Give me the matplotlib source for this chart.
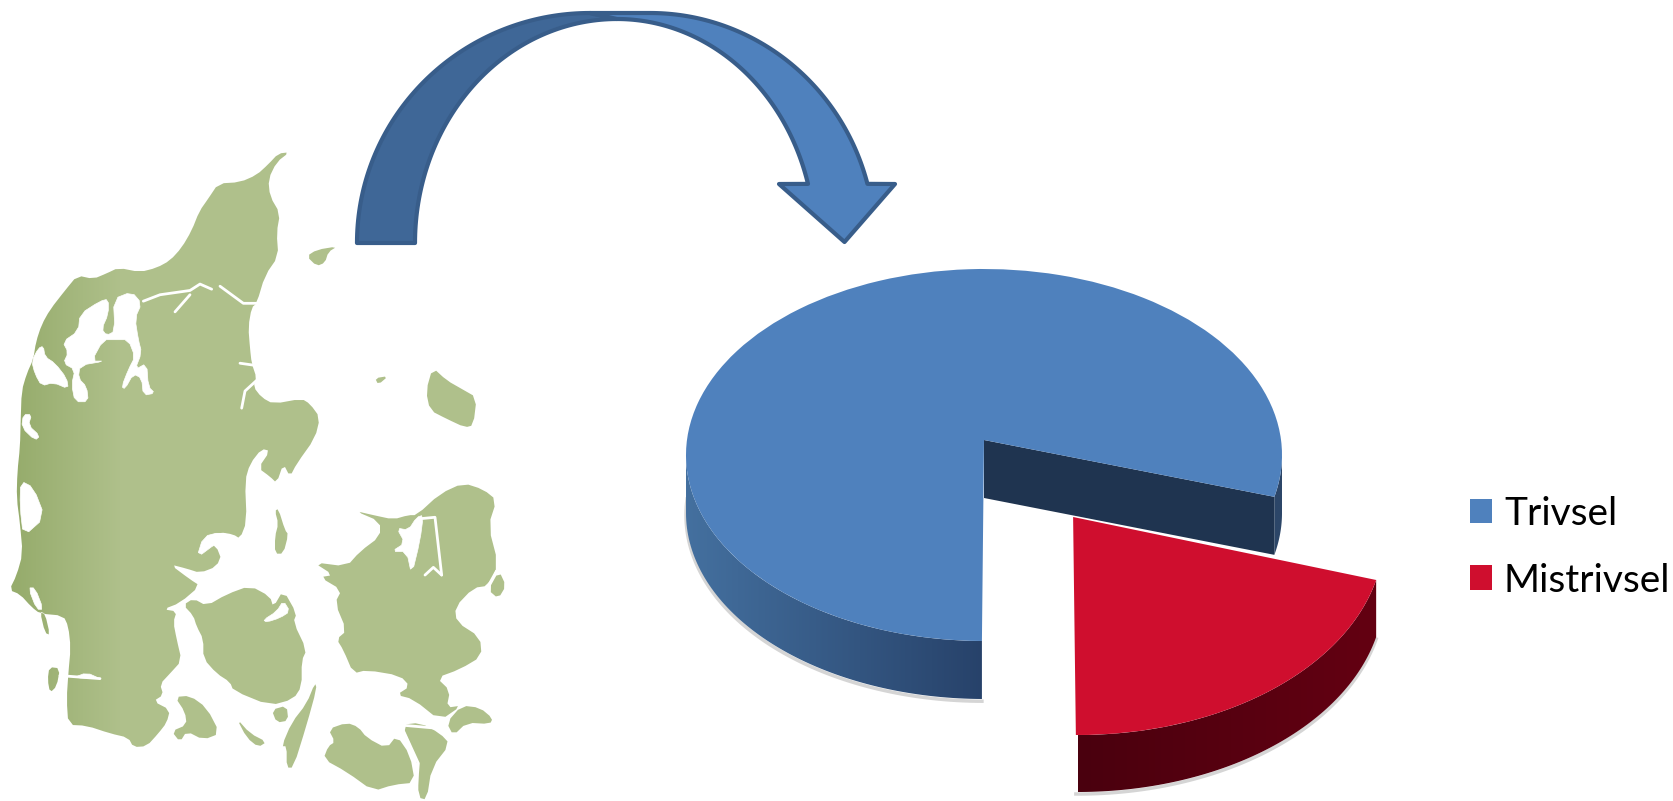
import numpy as np
import matplotlib
matplotlib.use("Agg")
import matplotlib.pyplot as plt
from matplotlib.patches import Polygon, Patch, PathPatch
from matplotlib.path import Path
from matplotlib.colors import LinearSegmentedColormap

W, H = 1674, 801

# ---------- data ----------
categories = ["Trivsel", "Mistrivsel"]
values = [78.5, 21.5]
slice_colors = ["#4f81bd", "#cf0e2e"]

jutland = [(868,52),(835,55),(805,80),(770,105),(720,122),(655,125),(625,160),(598,190),(575,235),(545,275),(510,305),(470,322),(420,332),(355,322),(320,335),(280,348),(232,340),(195,375),(150,420),(125,455),(108,495),(100,535),(80,570),(65,610),(62,680),(60,740),(52,800),(50,860),(60,920),(68,990),(50,1040),(28,1075),(60,1085),(95,1115),(120,1130),(190,1135),(205,1160),(212,1210),(205,1270),(200,1330),(205,1390),(260,1392),(330,1410),(385,1420),(400,1442),(440,1440),(475,1410),(500,1385),(510,1355),(460,1335),(490,1320),(480,1295),(510,1270),(545,1240),(530,1190),(520,1150),(530,1125),(490,1120),(540,1105),(600,1065),(570,1050),(510,1015),(560,1025),(600,1035),(650,1020),(665,990),(615,950),(660,940),(700,945),(720,955),(740,915),(735,820),(750,780),(785,745),(810,750),(775,790),(810,810),(830,825),(850,780),(870,810),(890,780),(945,720),(960,672),(930,640),(905,628),(820,640),(785,625),(760,600),(770,580),(755,545),(750,510),(745,460),(755,415),(770,405),(795,340),(835,295),(830,240),(840,195),(810,155),(805,115),(830,75)]
funen = [(550,1110),(580,1095),(620,1112),(680,1085),(750,1065),(810,1090),(820,1115),(850,1075),(890,1130),(880,1150),(920,1215),(905,1240),(905,1300),(880,1330),(810,1345),(700,1310),(690,1290),(650,1270),(610,1235),(610,1190),(590,1160),(580,1135)]
zealand = [(1250,900),(1320,850),(1390,825),(1450,840),(1490,865),(1465,925),(1495,1015),(1465,1065),(1420,1070),(1365,1115),(1370,1150),(1440,1185),(1445,1230),(1380,1260),(1310,1280),(1350,1310),(1340,1350),(1385,1345),(1320,1380),(1240,1330),(1190,1320),(1230,1300),(1200,1275),(1100,1262),(1060,1270),(1030,1215),(1010,1190),(1040,1170),(1005,1105),(1025,1075),(960,1045),(1000,1040),(940,1010),(1040,1020),(1080,985),(1140,950),(1140,915),(1065,890),(1120,900),(1180,910),(1225,900)]
islands = [
    [(825,890),(835,885),(855,935),(865,945),(850,990),(825,990),(825,950),(835,920)],
    [(920,295),(950,280),(1012,272),(985,285),(975,310),(950,318)],
    [(1125,580),(1165,575),(1135,595)],
    [(1298,555),(1340,585),(1385,605),(1430,625),(1420,690),(1395,695),(1340,675),(1290,655),(1278,610)],
    [(148,1255),(180,1258),(170,1300),(150,1315),(143,1285)],
    [(120,1125),(135,1130),(150,1180),(135,1175)],
    [(525,1325),(570,1322),(620,1350),(660,1410),(610,1425),(560,1405),(540,1430),(515,1405),(560,1390),(555,1360)],
    [(710,1375),(750,1410),(800,1430),(775,1442),(740,1420)],
    [(815,1355),(860,1345),(865,1380),(830,1385)],
    [(945,1292),(950,1305),(920,1390),(880,1490),(860,1490),(860,1440),(845,1440),(875,1385),(920,1340)],
    [(985,1400),(1040,1385),(1075,1395),(1100,1420),(1160,1445),(1190,1415),(1230,1460),(1245,1525),(1180,1530),(1120,1545),(1040,1500),(970,1470),(985,1440),(1005,1430)],
    [(1205,1390),(1260,1385),(1320,1410),(1350,1435),(1295,1490),(1280,1565),(1255,1560),(1255,1490),(1240,1450)],
    [(1340,1385),(1385,1345),(1440,1350),(1478,1375),(1470,1388),(1400,1385),(1360,1415)],
    [(1497,1030),(1518,1065),(1495,1095),(1465,1075)],
]
water_polys = [
    [(95,540),(115,510),(130,505),(135,530),(165,545),(200,580),(205,605),(160,590),(125,598),(105,570)],
    [(340,395),(395,378),(425,405),(405,440),(415,490),(425,520),(405,560),(440,545),(445,600),(465,615),(430,620),(425,580),(400,570),(375,605),(365,600),(385,560),(405,530),(385,490),(345,490),(310,490),(275,540),(315,540),(240,550),(235,580),(260,600),(265,635),(225,635),(215,595),(225,560),(190,545),(205,520),(188,495),(235,470),(240,430),(300,400),(325,395),(325,430),(305,465),(320,480),(345,470)],
    [(62,820),(100,835),(135,905),(70,950),(60,880)],
    [(70,665),(95,665),(85,690),(120,715),(105,725),(65,695)],
    [(790,1145),(830,1125),(850,1100),(870,1125),(840,1140),(800,1150)],
    [(1190,930),(1225,935),(1250,905),(1270,900),(1260,960),(1235,1040),(1220,985),(1175,985),(1215,965)],
    [(590,1000),(610,950),(660,940),(700,950),(650,965)],
    [(85,1070),(105,1070),(130,1120),(110,1120)],
    [(220,1280),(260,1268),(300,1282)],
]
water_lines = [
    [(770,405),(730,405),(660,365)],
    [(635,372),(600,360),(570,375),(480,385),(430,400)],
    [(570,385),(525,425)],
    [(725,650),(735,610),(770,585)],
    [(720,545),(765,550)],
    [(1265,908),(1305,905),(1325,1040)],
    [(1275,1040),(1300,1022),(1325,1040)],
    [(1490,1030),(1465,1065)],
    [(1195,1390),(1340,1400)],
    [(1205,1395),(1255,1480),(1250,1530)],
    [(180,1275),(300,1282)],
]
GREEN_L, GREEN_R = "#96ac6c", "#afc08b"
ARROW_DARK, ARROW_LIGHT, ARROW_EDGE = "#3f6797", "#4f81bd", "#385d8a"


def chaikin(a, n=1):
    for _ in range(n):
        b = np.roll(a, -1, axis=0)
        a = np.column_stack([0.75 * a + 0.25 * b, 0.25 * a + 0.75 * b]).reshape(-1, 2)
    return a


def mp(pts):
    a = np.asarray(pts, float)
    return np.column_stack([a[:, 0] / 3.0, 130 + a[:, 1] * 671 / 1568])


def arc(cx, cy, rx, ry, a0, a1, n=80):
    t = np.radians(np.linspace(a0, a1, n))
    return np.column_stack([cx + rx * np.cos(t), cy - ry * np.sin(t)])


fig = plt.figure(figsize=(W / 100, H / 100), dpi=100, facecolor="white")
ax = fig.add_axes([0, 0, 1, 1], zorder=1)
ax.set_xlim(0, W)
ax.set_ylim(H, 0)
ax.axis("off")

# ---------- map ----------
verts, codes = [], []
for poly in [jutland, funen, zealand] + islands:
    p = chaikin(mp(poly))
    verts += list(p) + [p[0]]
    codes += [Path.MOVETO] + [Path.LINETO] * (len(p) - 1) + [Path.CLOSEPOLY]
land = Path(verts, codes)
cmap = LinearSegmentedColormap.from_list("land", [GREEN_L, GREEN_R])
grad = np.clip((np.linspace(0, 520, 520) - 15) / 105, 0, 1)[None, :]
im = ax.imshow(grad, extent=(0, 520, 801, 130), cmap=cmap, aspect="auto", zorder=1, vmin=0, vmax=1)
im.set_clip_path(PathPatch(land, transform=ax.transData))
ax.set_xlim(0, W)
ax.set_ylim(H, 0)
for w in water_polys:
    ax.add_patch(Polygon(chaikin(mp(w), 1), closed=True, fc="white", ec="white", lw=0.5, zorder=2))
for l in water_lines:
    p = mp(l)
    ax.plot(p[:, 0], p[:, 1], color="white", lw=2.0, zorder=2, solid_capstyle="round")

# ---------- curved arrow ----------
left_outer = arc(590, 243, 233, 230, 180, 90)
left_inner = arc(617, 243, 202, 224, 90, 180)
ax.add_patch(Polygon(np.vstack([left_outer, left_inner]), closed=True, fc=ARROW_DARK,
                     ec=ARROW_EDGE, lw=3.0, joinstyle="round", zorder=3))
right_inner = arc(617, 243, 198, 224, 90, 15.3)
right_outer = arc(650, 243, 225, 230, 14.9, 90)
head = [(779, 184), (844.5, 242), (895, 184)]
ax.add_patch(Polygon(np.vstack([right_inner, head, right_outer, [(590, 13)]]), closed=True,
                     fc=ARROW_LIGHT, ec=ARROW_EDGE, lw=3.0, joinstyle="round", zorder=3))


# ---------- pie ----------
def pie_axes(cx, cy, rx, ry, z):
    a = fig.add_axes([(cx - 1.5 * rx) / W, 1 - (cy + 1.6 * ry) / H, 3 * rx / W, 3.2 * ry / H], zorder=z)
    a.patch.set_alpha(0)
    return a


def finish(a):
    a.set_aspect("auto")
    a.set_xlim(-1.5, 1.5)
    a.set_ylim(-1.6, 1.6)
    a.axis("off")


def gradient_wall(a, poly, c0, c1, x0, x1, z):
    cm = LinearSegmentedColormap.from_list("w", [c0, c1])
    ymin, ymax = poly[:, 1].min(), poly[:, 1].max()
    im = a.imshow(np.linspace(0, 1, 200)[None, :], extent=(x0, x1, ymin, ymax), cmap=cm,
                  aspect="auto", zorder=z, vmin=0, vmax=1)
    im.set_clip_path(PathPatch(Path(np.vstack([poly, poly[0]]), closed=True), transform=a.transData))


def unit_arc(a0, a1, dy=0.0, n=80):
    t = np.radians(np.linspace(a0, a1, n))
    return np.column_stack([np.cos(t), np.sin(t) - dy])


START = -13
END = START + 360 * values[0] / sum(values)   # about 270 degrees: straight down

# blue slice
BX, BY, BRX, BRY = 984, 455, 298, 186
DEPTH = 58 / BRY
APEX = (0.0, (BY - 440) / BRY)
pa = pie_axes(BX, BY, BRX, BRY, 2)
wb, _ = pa.pie(values, startangle=START, colors=[slice_colors[0], "none"], radius=1, wedgeprops=dict(lw=0))
wb[1].set_visible(False)
vb = wb[0].get_path().vertices
vb[np.all(np.isclose(vb, 0), axis=1)] = APEX
wb[0].set_zorder(5)
side = np.vstack([unit_arc(180, END), unit_arc(END, 180, DEPTH)])
gradient_wall(pa, side, "#44709f", "#27426a", -1, 0, 2)
sh = unit_arc(175, END, DEPTH + 0.012)
pa.plot(sh[:, 0], sh[:, 1], color="#888888", alpha=0.35, lw=2.5, zorder=1)
sliver = np.vstack([unit_arc(0, START), unit_arc(START, 0, DEPTH)])
pa.add_patch(Polygon(sliver, closed=True, fc="#2c4668", ec="none", zorder=2))
rim = unit_arc(START, START, n=1)[0]
wall = np.array([APEX, rim, rim - (0.0, DEPTH), (APEX[0], APEX[1] - DEPTH)])
pa.add_patch(Polygon(wall, closed=True, fc="#1f3450", ec="none", zorder=3))
finish(pa)

# red slice
RX, RY, RRX, RRY = 1078, 535, 306, 200
RDEPTH = 57 / RRY
RAPEX = (-0.016, (RY - 517) / RRY)
pr = pie_axes(RX, RY, RRX, RRY, 3)
wr, _ = pr.pie(values, startangle=START, colors=["none", slice_colors[1]], radius=1, wedgeprops=dict(lw=0))
wr[0].set_visible(False)
vr = wr[1].get_path().vertices
vr[np.all(np.isclose(vr, 0), axis=1)] = RAPEX
wr[1].set_zorder(5)
rside = np.vstack([unit_arc(END - 360, START), unit_arc(START, END - 360, RDEPTH)])
gradient_wall(pr, rside, "#4a000e", "#640012", 0, 1, 2)
rsh = unit_arc(END - 360, START, RDEPTH + 0.01)
pr.plot(rsh[:, 0], rsh[:, 1], color="#888888", alpha=0.35, lw=2.5, zorder=1)
finish(pr)

# ---------- legend ----------
handles = [Patch(fc=c, ec="none") for c in slice_colors]
fig.legend(handles, categories, loc="upper left", bbox_to_anchor=(1462 / W, 1 - 488 / H),
           bbox_transform=fig.transFigure, frameon=False, prop=dict(family="Lato", size=28),
           handlelength=0.58, handleheight=0.6, handletextpad=0.3, labelspacing=0.79,
           borderpad=0.2, borderaxespad=0)

fig.savefig("out.png", dpi=100, facecolor="white")
